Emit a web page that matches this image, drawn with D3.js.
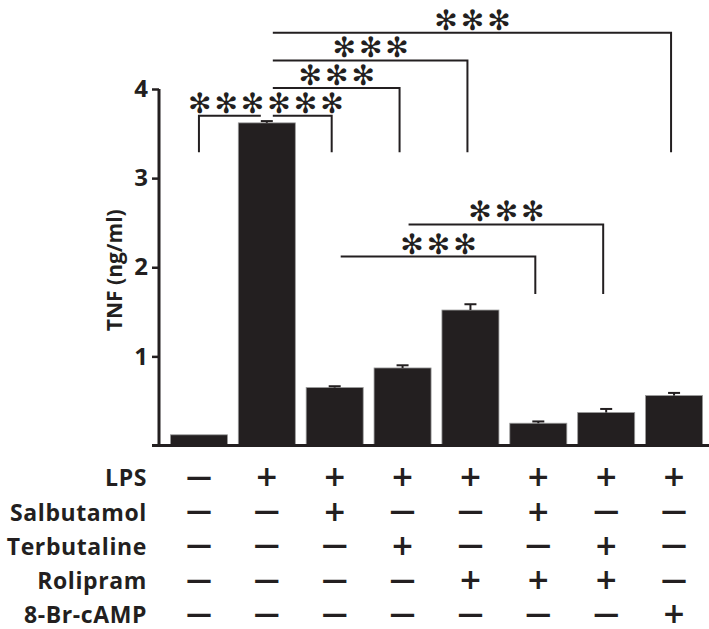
<!DOCTYPE html>
<html>
<head>
<meta charset="utf-8">
<script src="https://cdn.jsdelivr.net/npm/d3@7"></script>
<style>
  body { margin: 0; background: #fff; }
  text { font-family: "Open Sans", sans-serif; fill: #231f20; }
</style>
</head>
<body>
<svg id="drawing_region"></svg>
<script>
// bar values (TNF, ng/ml) and SEM
const groups = ["g1", "g2", "g3", "g4", "g5", "g6", "g7", "g8"];
const tnf = [0.12, 3.62, 0.65, 0.87, 1.52, 0.25, 0.37, 0.56];
const tnf_err = [0, 0.02, 0.015, 0.03, 0.065, 0.02, 0.04, 0.03];
const y_ticks = [1, 2, 3, 4];

// treatment table under the bars
const treatments = ["LPS", "Salbutamol", "Terbutaline", "Rolipram", "8-Br-cAMP"];
const lps         = ["-", "+", "+", "+", "+", "+", "+", "+"];
const salbutamol  = ["-", "-", "+", "-", "-", "+", "-", "-"];
const terbutaline = ["-", "-", "-", "+", "-", "-", "+", "-"];
const rolipram    = ["-", "-", "-", "-", "+", "+", "+", "-"];
const br_camp     = ["-", "-", "-", "-", "-", "-", "-", "+"];

// significance brackets: bar indices, line level and leg foot (data units)
const brackets = [
  {from: 0, to: 2, level: 3.70, foot: 3.29, stars: "******", gap: 1},
  {from: 1, to: 3, level: 4.01, foot: 3.29, stars: "***", open: true},
  {from: 1, to: 4, level: 4.32, foot: 3.29, stars: "***", open: true},
  {from: 1, to: 7, level: 4.63, foot: 3.29, stars: "***", open: true},
  {from: 2, to: 5, level: 2.12, foot: 1.70, stars: "***", open: true},
  {from: 3, to: 6, level: 2.48, foot: 1.70, stars: "***", open: true}
];

class BarChart {
  constructor(config) {
    this.config = config;
    this.init();
  }

  init() {
    let self = this;
    self.svg = d3.select(self.config.parent)
                 .attr('width', self.config.width)
                 .attr('height', self.config.height);

    self.xscale = d3.scaleBand()
                    .domain(groups)
                    .range([165, 708])
                    .paddingInner(0.16)
                    .paddingOuter(0.08);

    self.yscale = d3.scaleLinear()
                    .domain([0, 4])
                    .range([445.5, 89]);
    self.ink = "#231f20";
  }

  cx(i) {
    return this.xscale(groups[i]) + this.xscale.bandwidth() / 2;
  }

  render() {
    let self = this;
    const x = self.xscale, y = self.yscale;

    // bars
    self.svg.selectAll('.bar')
            .data(tnf)
            .join('rect')
            .attr('class', 'bar')
            .attr('x', (d, i) => x(groups[i]))
            .attr('width', x.bandwidth())
            .attr('y', d => y(d))
            .attr('height', d => y(0) - y(d))
            .attr('fill', self.ink)
            .attr('stroke', '#9a9a9a')
            .attr('stroke-width', 0.8);

    // error bars (upward only)
    const err = self.svg.append('g')
                        .attr('stroke', self.ink)
                        .attr('stroke-width', 2);
    tnf.forEach((d, i) => {
      if (tnf_err[i] <= 0) return;
      const c = self.cx(i);
      err.append('line')
         .attr('x1', c).attr('x2', c)
         .attr('y1', y(d)).attr('y2', y(d + tnf_err[i]));
      err.append('line')
         .attr('x1', c - 6).attr('x2', c + 6)
         .attr('y1', y(d + tnf_err[i])).attr('y2', y(d + tnf_err[i]));
    });

    // y axis
    const axis = d3.axisLeft(y)
                   .tickValues(y_ticks)
                   .tickSize(7)
                   .tickSizeOuter(0)
                   .tickPadding(4)
                   .tickFormat(d3.format('d'));
    const ga = self.svg.append('g')
                       .attr('transform', 'translate(159,0)')
                       .call(axis);
    ga.select('.domain')
      .attr('d', `M0,${y(4)}V${y(0)}`)
      .attr('stroke', self.ink)
      .attr('stroke-width', 3);
    ga.selectAll('.tick line').attr('stroke', self.ink).attr('stroke-width', 2.5);
    ga.selectAll('.tick text')
      .attr('fill', self.ink)
      .style('font-family', '"Open Sans", sans-serif')
      .style('font-size', '24px')
      .style('font-weight', 700);

    // baseline
    self.svg.append('line')
            .attr('x1', 152).attr('x2', 709)
            .attr('y1', y(0)).attr('y2', y(0))
            .attr('stroke', self.ink)
            .attr('stroke-width', 3);

    // y label
    self.svg.append('text')
            .attr('transform', `translate(122,${(y(0) + y(4)) / 2 + 3}) rotate(-90)`)
            .attr('text-anchor', 'middle')
            .style('font-size', '21px')
            .style('font-weight', 700)
            .text('TNF (ng/ml)');

    // significance brackets
    const gb = self.svg.append('g');
    brackets.forEach(b => {
      const x1 = b.open ? self.cx(b.from) + 6 : self.cx(b.from);
      const x2 = self.cx(b.to) - 3;
      const ly = y(b.level), fy = y(b.foot);
      let path;
      if (b.gap !== undefined) {
        const g = self.cx(b.gap);
        path = `M${x1},${fy}V${ly}H${g - 6}M${g + 6},${ly}H${x2}V${fy}`;
      } else {
        path = `M${x1},${ly}H${x2}V${fy}`;
      }
      gb.append('path')
        .attr('d', path)
        .attr('fill', 'none')
        .attr('stroke', self.ink)
        .attr('stroke-width', 2);
      gb.append('text')
        .attr('x', (x1 + x2) / 2 + 2)
        .attr('y', ly - 3)
        .attr('text-anchor', 'middle')
        .style('font-family', '"DejaVu Sans", sans-serif')
        .style('font-weight', 700)
        .style('font-size', '28px')
        .style('letter-spacing', '3px')
        .text(b.stars.replace(/\*/g, '\u273B'));
    });

    // treatment table
    const rows = [lps, salbutamol, terbutaline, rolipram, br_camp];
    const rowY = d3.scalePoint().domain(treatments).range([478, 615]);
    const gt = self.svg.append('g');
    gt.selectAll('.rowlabel')
      .data(treatments)
      .join('text')
      .attr('class', 'rowlabel')
      .attr('x', 147)
      .attr('y', d => rowY(d))
      .attr('dy', '0.36em')
      .attr('text-anchor', 'end')
      .style('font-size', '23px')
      .style('letter-spacing', '0.6px')
      .style('font-weight', 700)
      .text(d => d);

    rows.forEach((row, r) => {
      gt.selectAll('.sign' + r)
        .data(row)
        .join('text')
        .attr('x', (d, i) => self.cx(i))
        .attr('y', rowY(treatments[r]))
        .attr('dy', d => d === '+' ? '0.3em' : '0.3em')
        .attr('text-anchor', 'middle')
        .style('font-family', '"DejaVu Sans", sans-serif')
        .style('font-size', d => d === '+' ? '28px' : '26px')
        .style('font-weight', 700)
        .text(d => d === '+' ? '+' : '\u2014');
    });
  }
}

const chart = new BarChart({parent: '#drawing_region', width: 709, height: 629});
chart.render();
</script>
</body>
</html>
